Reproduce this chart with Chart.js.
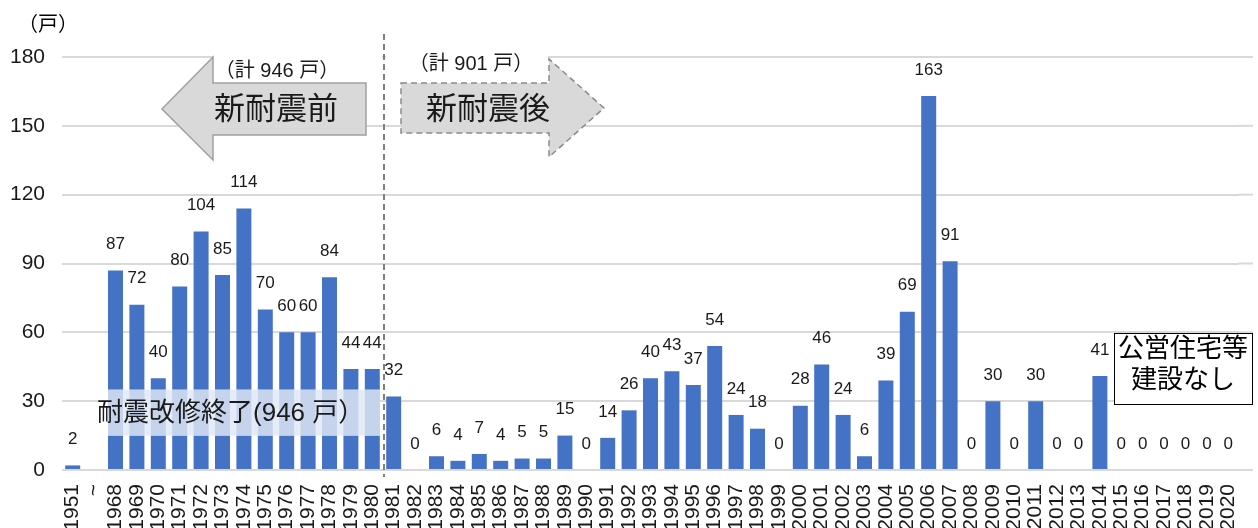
<!DOCTYPE html>
<html lang="ja">
<head>
<meta charset="utf-8">
<script src="https://cdn.jsdelivr.net/npm/chart.js@4/dist/chart.umd.min.js"></script>
<style>
  html, body { margin: 0; padding: 0; background: #fff; overflow: hidden; }
  #wrap { width: 1258px; height: 528px; }
</style>
</head>
<body>
<div id="wrap"><canvas id="chart" width="1258" height="528"></canvas></div>
<script>
var years = [
  '1951', '~',
  '1968', '1969', '1970', '1971', '1972', '1973', '1974', '1975', '1976', '1977', '1978', '1979', '1980',
  '1981', '1982', '1983', '1984', '1985', '1986', '1987', '1988', '1989', '1990',
  '1991', '1992', '1993', '1994', '1995', '1996', '1997', '1998', '1999', '2000',
  '2001', '2002', '2003', '2004', '2005', '2006', '2007', '2008', '2009', '2010',
  '2011', '2012', '2013', '2014', '2015', '2016', '2017', '2018', '2019', '2020'
];
var units = [
  2, null,
  87, 72, 40, 80, 104, 85, 114, 70, 60, 60, 84, 44, 44,
  32, 0, 6, 4, 7, 4, 5, 5, 15, 0,
  14, 26, 40, 43, 37, 54, 24, 18, 0, 28,
  46, 24, 6, 39, 69, 163, 91, 0, 30, 0,
  30, 0, 0, 41, 0, 0, 0, 0, 0, 0
];
var yMax = 180;
var yStep = 30;
var preLabel = '（計 946 戸）';
var postLabel = '（計 901 戸）';
var preArrowText = '新耐震前';
var postArrowText = '新耐震後';
var bandText = '耐震改修終了(946 戸）';
var bandRange = [15, 35];
var noteLines = ['公営住宅等', '建設なし'];
var unitText = '（戸）';

var FONT = "'Liberation Sans', Arial, 'Noto Sans CJK JP', sans-serif";
var TEXT = '#1a1a1a';
var BAR = '#4472c4';
var GRID = '#d9d9d9';
var GRID_END = 1253;

function arrowPath(ctx, pts) {
  ctx.beginPath();
  ctx.moveTo(pts[0][0], pts[0][1]);
  for (var i = 1; i < pts.length; i++) {
    ctx.lineTo(pts[i][0], pts[i][1]);
  }
  ctx.closePath();
}

var overlay = {
  id: 'overlay',
  beforeDatasetsDraw: (chart) => {
    // gridlines run a little past the last category
    var ctx = chart.ctx;
    var y = chart.scales.y;
    ctx.save();
    ctx.strokeStyle = GRID;
    ctx.lineWidth = 2;
    y.ticks.forEach((t) => {
      var py = y.getPixelForValue(t.value);
      ctx.beginPath();
      ctx.moveTo(chart.chartArea.right - 1, py);
      ctx.lineTo(GRID_END, py);
      ctx.stroke();
    });
    ctx.restore();
  },
  afterDatasetsDraw: (chart) => {
    var ctx = chart.ctx;
    var y = chart.scales.y;
    var bars = chart.getDatasetMeta(0).data;
    var firstIdx = years.indexOf('1968');
    var lastIdx = years.indexOf('1980');

    ctx.save();

    // band over the retrofitted bars: pale between bars, light blue on bars
    var b0 = bars[firstIdx], b1 = bars[lastIdx];
    var bandLeft = b0.x - b0.width / 2;
    var bandRight = b1.x + b1.width / 2;
    var bandTop = y.getPixelForValue(bandRange[1]);
    var bandBottom = y.getPixelForValue(bandRange[0]);
    ctx.fillStyle = '#e6ecf7';
    ctx.fillRect(bandLeft, bandTop, bandRight - bandLeft, bandBottom - bandTop);
    ctx.fillStyle = '#c5d3ec';
    for (var i = firstIdx; i <= lastIdx; i++) {
      var b = bars[i];
      ctx.fillRect(b.x - b.width / 2, bandTop, b.width, bandBottom - bandTop);
    }

    // value labels
    ctx.fillStyle = TEXT;
    ctx.font = '17px ' + FONT;
    ctx.textAlign = 'center';
    ctx.textBaseline = 'middle';
    bars.forEach((bar, i) => {
      if (units[i] === null) {
        return;
      }
      ctx.fillText(String(units[i]), bar.x, bar.y - 26);
    });

    // band caption
    ctx.font = '26px ' + FONT;
    ctx.textAlign = 'left';
    ctx.fillText(bandText, bandLeft - 11, (bandTop + bandBottom) / 2 + 1);

    // divider between 1980 and 1981
    var divX = (bars[lastIdx].x + bars[lastIdx + 1].x) / 2 + 1;
    ctx.strokeStyle = '#7f7f7f';
    ctx.lineWidth = 2;
    ctx.setLineDash([6, 4]);
    ctx.beginPath();
    ctx.moveTo(divX, 34);
    ctx.lineTo(divX, y.bottom + 7);
    ctx.stroke();
    ctx.setLineDash([]);

    // white boxes behind the totals
    ctx.fillStyle = '#fff';
    ctx.fillRect(213, 46, divX - 215, 35);
    ctx.fillRect(divX + 2, 44, 548 - divX - 2, 14);

    // left arrow
    arrowPath(ctx, [[162, 109], [213, 57], [213, 83], [366, 83], [366, 135], [213, 135], [213, 160]]);
    ctx.fillStyle = '#d9d9d9';
    ctx.fill();
    ctx.strokeStyle = '#a0a0a0';
    ctx.lineWidth = 1.5;
    ctx.stroke();

    // right arrow (dashed)
    arrowPath(ctx, [[401, 83], [549, 83], [549, 59], [604, 108], [549, 157], [549, 133], [401, 133]]);
    ctx.fillStyle = '#d9d9d9';
    ctx.fill();
    ctx.strokeStyle = '#8a8a8a';
    ctx.lineWidth = 1.5;
    ctx.setLineDash([6, 4]);
    ctx.stroke();
    ctx.setLineDash([]);

    ctx.fillStyle = TEXT;
    ctx.textAlign = 'center';
    ctx.textBaseline = 'middle';
    ctx.font = '31px ' + FONT;
    ctx.fillText(preArrowText, 276, 110);
    ctx.fillText(postArrowText, 488, 110);

    ctx.font = '20px ' + FONT;
    ctx.fillText(preLabel, 277, 71);
    ctx.fillText(postLabel, 471, 64);

    // note box
    ctx.fillStyle = '#fff';
    ctx.fillRect(1114, 333, 138, 71);
    ctx.strokeStyle = '#000';
    ctx.lineWidth = 1;
    ctx.strokeRect(1114.5, 333.5, 138, 71);
    ctx.fillStyle = '#000';
    ctx.font = '26px ' + FONT;
    ctx.fillText(noteLines[0], 1183, 350);
    ctx.fillText(noteLines[1], 1183, 381);

    // unit
    ctx.font = '20px ' + FONT;
    ctx.textAlign = 'left';
    ctx.fillText(unitText, 18, 25);

    ctx.restore();
  }
};

new Chart(document.getElementById('chart'), {
  type: 'bar',
  data: {
    labels: years,
    datasets: [{
      data: units,
      backgroundColor: BAR,
      borderWidth: 0,
      categoryPercentage: 1,
      barPercentage: 0.7
    }]
  },
  options: {
    responsive: false,
    animation: false,
    layout: {
      padding: { top: 57, right: 19, left: 0, bottom: 0 }
    },
    plugins: {
      legend: { display: false },
      tooltip: { enabled: false }
    },
    scales: {
      x: {
        grid: { display: false, drawTicks: false },
        border: { display: false },
        ticks: {
          autoSkip: false,
          minRotation: 90,
          maxRotation: 90,
          padding: 14,
          color: TEXT,
          font: { family: FONT, size: 21 }
        },
        afterFit: (scale) => {
          scale.height = 58;
          scale.paddingLeft = 0;
          scale.paddingRight = 0;
        }
      },
      y: {
        min: 0,
        max: yMax,
        grid: { color: GRID, lineWidth: 2, drawTicks: false },
        border: { display: false },
        ticks: {
          stepSize: yStep,
          padding: 17,
          color: TEXT,
          font: { family: FONT, size: 21 }
        },
        afterFit: (scale) => { scale.width = 62; }
      }
    }
  },
  plugins: [overlay]
});
</script>
</body>
</html>
